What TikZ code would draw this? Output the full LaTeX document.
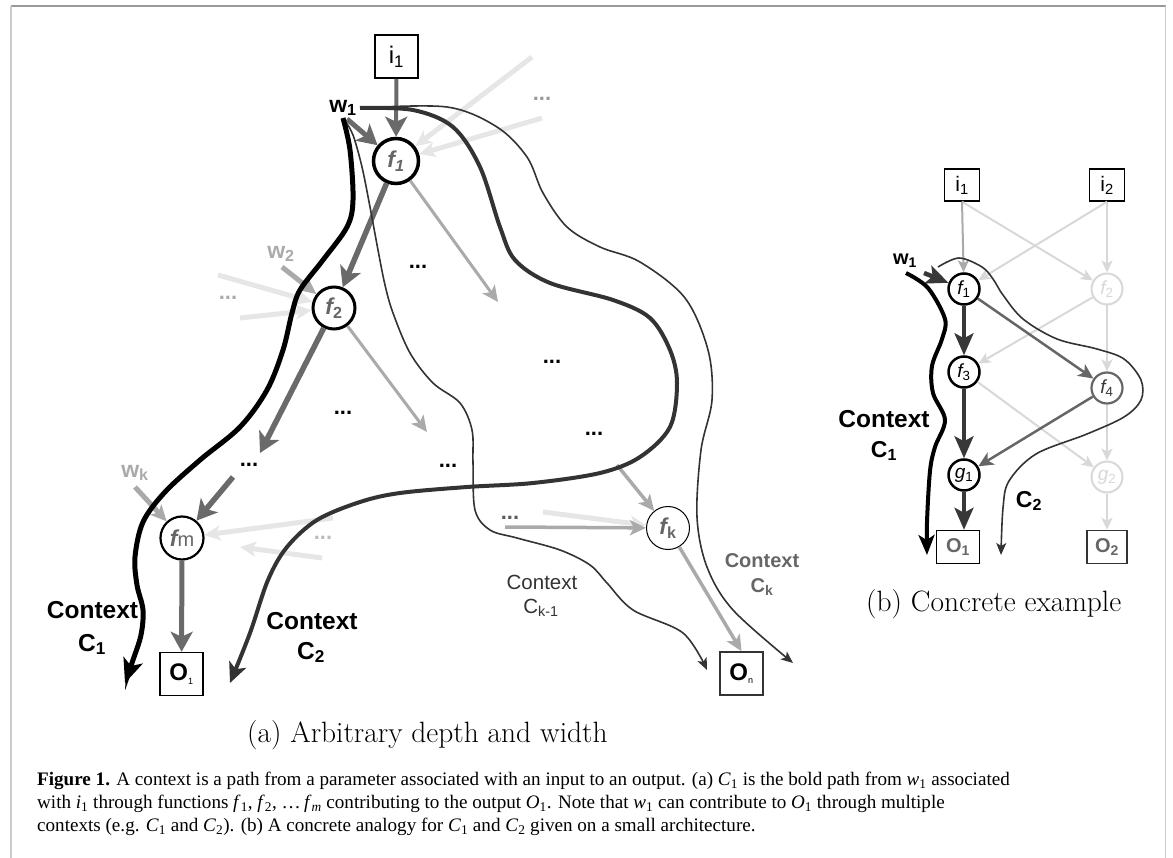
\documentclass[tikz,border=0pt]{standalone}
\usepackage{fontspec}
\usetikzlibrary{arrows.meta}
\newfontfamily\lblfont{Liberation Sans}
\newfontfamily\capfont{Liberation Serif}
\newcommand\fsz[1]{\fontsize{#1}{#1}\selectfont}
\definecolor{frameA}{HTML}{999999}
\definecolor{frameB}{HTML}{CCCCCC}
\definecolor{pathgray}{HTML}{6A6A6A}
\definecolor{midgray}{HTML}{AAAAAA}
\definecolor{palegray}{HTML}{E6E6E6}
\definecolor{ctxgray}{HTML}{333333}
\definecolor{fadegray}{HTML}{D8D8D8}
\definecolor{labgray}{HTML}{666666}
\definecolor{darkedge}{HTML}{383838}

\tikzset{
  iobox/.style={draw=black, line width=1.8pt, fill=white, inner sep=0pt,
    minimum width=43pt, minimum height=43pt, font=\lblfont\fsz{24}},
  fnode/.style={circle, draw=black, fill=white, inner sep=0pt,
    minimum size=44pt, text=labgray, font=\lblfont\fsz{23}},
  bigtip/.style={-{Stealth[length=20pt,width=22pt,inset=5pt]}},
  midtip/.style={-{Stealth[length=16pt,width=15pt,inset=4pt]}},
  smalltip/.style={-{Stealth[length=12pt,width=11pt,inset=3pt]}},
  thintip/.style={-{Stealth[length=12pt,width=10pt,inset=3pt]}},
  mainedge/.style={pathgray, line width=5.5pt, bigtip},
  sideedge/.style={midgray, line width=3pt, midtip},
  faintedge/.style={palegray, line width=5pt, midtip},
  dots/.style={inner sep=0pt, font=\lblfont\bfseries\fsz{22}},
  wlabel/.style={inner sep=0pt, font=\lblfont\bfseries\fsz{23}},
  ctxlabel/.style={inner sep=0pt, font=\lblfont\bfseries\fsz{24.5}},
  ctxthick/.style={black, line width=5pt, -{Stealth[length=24pt,width=20pt,inset=6pt]}},
  ctxmid/.style={ctxgray, line width=4pt, -{Stealth[length=20pt,width=18pt,inset=5pt]}},
  ctxthin/.style={ctxgray, line width=1.6pt, thintip},
  subcap/.style={anchor=base west, inner sep=0pt, font=\fsz{29.4}},
  % small example
  sbox/.style={draw=black, line width=1.5pt, fill=white, inner sep=0pt,
    minimum width=35pt, minimum height=32pt, font=\lblfont\fsz{21}},
  snode/.style={circle, draw=black, line width=2.5pt, fill=white, inner sep=0pt,
    minimum size=31pt, font=\lblfont\itshape\fsz{19}},
  fadenode/.style={snode, draw=fadegray, text=fadegray, line width=2pt},
  fadeedge/.style={fadegray, line width=2pt, smalltip},
  activeedge/.style={darkedge, line width=3.5pt, -{Stealth[length=22pt,width=19pt,inset=5pt]}},
  sidesmall/.style={labgray, line width=2.5pt, -{Stealth[length=15pt,width=14pt,inset=4pt]}},
  capline/.style={anchor=base west, inner sep=0pt, font=\capfont\fsz{19.1}},
}

\begin{document}
\begin{tikzpicture}[x=1pt,y=-1pt]
\useasboundingbox (0,0) rectangle (1173,858);

% frame
\draw[frameA, line width=1.5pt] (11,6) -- (1166,6);
\draw[frameB, line width=2pt] (11,6) -- (11,858);
\draw[frameB, line width=1pt] (1165,6) -- (1165,858);

% ---------------- (a) arbitrary network ----------------
\node[iobox] (i1a) at (396.5,56.5) {i\textsubscript{1}};
\node[fnode, line width=3.5pt, minimum size=45pt] (f1a) at (396,161) {\bfseries\itshape f\textsubscript{1}};
\node[fnode, line width=3pt, minimum size=42pt] (f2a) at (334,308) {\bfseries\itshape f\textsubscript{\upshape 2}};
\node[fnode, line width=2.2pt, minimum size=43pt] (fma) at (182,538) {\bfseries\itshape f\mdseries\upshape\fsz{20}m};
\node[fnode, line width=1pt, minimum size=43pt] (fka) at (668,528) {\bfseries\itshape f\textsubscript{\upshape k}};
\node[iobox, line width=1.5pt] (O1a) at (181.5,674) {\bfseries O\textsubscript{\fsz{9}\mdseries 1}};
\node[iobox, line width=1.5pt, draw=ctxgray] (Ona) at (741.5,673.5) {\bfseries O\textsubscript{\fsz{9}\mdseries n}};

\node[wlabel] (w1a) at (343,108) {w\textsubscript{1}};
\node[wlabel, text=midgray] (w2a) at (281,254) {w\textsubscript{2}};
\node[wlabel, text=midgray] (wka) at (135,473) {w\textsubscript{k}};

% dots standing for further units
\node[dots] (da1) at (418,267) {...};
\node[dots] (da2) at (343,413) {...};
\node[dots] (da3) at (249,465) {...};
\node[dots] (da4) at (448,466) {...};
\node[dots] (da5) at (552,362) {...};
\node[dots] (da6) at (594,434) {...};
\node[dots, text=ctxgray!80] (da7) at (510,518) {...};
\node[dots, text=frameA] (da8) at (542,99) {...};
\node[dots, text=midgray] (da9) at (228,298) {...};
\node[dots, text=midgray!80] (da10) at (323,538) {...};

% free ends of the edges
\coordinate (w1s) at (347,119);
\coordinate (pf1) at (532,57);
\coordinate (pf2) at (542,118);
\coordinate (r1) at (498,302);
\coordinate (w2s) at (282,267);
\coordinate (pf3) at (218,275);
\coordinate (pf4) at (240,318);
\coordinate (d2) at (260,453);
\coordinate (r2) at (427,432);
\coordinate (d3) at (233,477);
\coordinate (wks) at (135,487);
\coordinate (pf5) at (333,518);
\coordinate (pf6) at (322,558);
\coordinate (pf6e) at (240,547);
\coordinate (k1) at (617,465);
\coordinate (pf7) at (543,512);
\coordinate (k2) at (505,527);

% faint incoming edges
\draw[faintedge] (pf1) -- (f1a);
\draw[faintedge] (pf2) -- (f1a);
\draw[faintedge] (pf3) -- (f2a);
\draw[faintedge] (pf4) -- (f2a);
\draw[faintedge] (pf5) -- (fma);
\draw[faintedge] (pf6) -- (pf6e);
\draw[faintedge] (pf7) -- (fka);

% side branches
\draw[sideedge] (f1a) -- (r1);
\draw[sideedge] (f2a) -- (r2);
\draw[midgray, line width=5pt, midtip] (w2s) -- (f2a);
\draw[midgray, line width=5pt, midtip] (wks) -- (fma);
\draw[sideedge, line width=3.5pt] (k1) -- (fka);
\draw[sideedge, line width=3.5pt] (k2) -- (fka);
\draw[sideedge, line width=3.5pt] (fka) -- (Ona.north);

% main path
\draw[mainedge, line width=4pt] (i1a) -- (f1a);
\draw[mainedge, line width=5pt] (w1s) -- (f1a);
\draw[mainedge] (f1a) -- (f2a);
\draw[mainedge] (f2a) -- (d2);
\draw[mainedge] (d3) -- (fma);
\draw[mainedge, line width=5pt] (fma) -- (O1a);

% contexts
\coordinate (c1s) at (343,118);
\coordinate (c1e) at (125,683);
\coordinate (c2s) at (360,108);
\coordinate (c2e) at (230,683);
\coordinate (cks) at (362,108);
\coordinate (cke) at (793,663);
\coordinate (cms) at (345,121);
\coordinate (cme) at (707,670);

\draw[ctxthin] plot[smooth, tension=0.55] coordinates {(cks) (447,107) (497,127) (527,157) (543,193) (567,227) (600,247) (640,262) (685,298) (708,350) (712,400) (701,450) (697,517) (707,567) (733,610) (cke)};
\draw[ctxthin] plot[smooth, tension=0.55] coordinates {(cms) (353,135) (362,167) (370,207) (378,250) (385,285) (393,313) (410,353) (433,383) (460,403) (472,430) (473,463) (475,510) (490,530) (517,538) (560,550) (590,565) (607,583) (633,610) (683,633) (cme)};
\draw[ctxmid] plot[smooth, tension=0.55] coordinates {(c2s) (413,110) (453,127) (480,167) (500,227) (515,260) (550,283) (613,300) (650,318) (670,350) (677,383) (670,427) (640,457) (600,473) (533,483) (467,487) (400,493) (360,502) (317,520) (287,547) (268,580) (250,633) (c2e)};
\draw[ctxthick] plot[smooth, tension=0.55] coordinates {(c1s) (350,150) (353,200) (347,227) (323,260) (300,290) (292,313) (283,350) (267,390) (240,427) (200,460) (165,492) (143,522) (135,557) (137,585) (143,610) (141,635) (133,660) (c1e)};

% context labels
\node[ctxlabel] (lc1) at (92.5,610) {Context};
\node[ctxlabel, anchor=base] (lc1b) at (92,651) {C\textsubscript{1}};
\node[ctxlabel] (lc2) at (312,621) {Context};
\node[ctxlabel, anchor=base] (lc2b) at (311,659) {C\textsubscript{2}};
\node[inner sep=0pt, font=\lblfont\fsz{20.5}, text=ctxgray] (lcm) at (542,582) {Context};
\node[inner sep=0pt, font=\lblfont\fsz{20.5}, text=ctxgray, anchor=base] (lcmb) at (541,613) {C\textsubscript{k-1}};
\node[inner sep=0pt, font=\lblfont\bfseries\fsz{20}, text=labgray] (lck) at (762,561) {Context};
\node[inner sep=0pt, font=\lblfont\bfseries\fsz{20}, text=labgray, anchor=base] (lckb) at (762,592) {C\textsubscript{k}};

\node[subcap] (capa) at (247,742) {(a) Arbitrary depth and width};

% ---------------- (b) concrete example ----------------
\node[sbox] (i1b) at (962,185) {i\textsubscript{1}};
\node[sbox] (i2b) at (1107,185) {i\textsubscript{2}};
\node[snode] (f1b) at (964,289) {f\textsubscript{\upshape 1}};
\node[fadenode] (f2b) at (1107,289) {f\textsubscript{\upshape 2}};
\node[snode] (f3b) at (964,372) {f\textsubscript{\upshape 3}};
\node[snode, draw=labgray, line width=2.2pt, text=darkedge] (f4b) at (1107,388) {f\textsubscript{\upshape 4}};
\node[snode] (g1b) at (964,475) {g\textsubscript{\upshape 1}};
\node[fadenode] (g2b) at (1107,477) {g\textsubscript{\upshape 2}};
\node[sbox, minimum width=43pt, minimum height=33pt, text=labgray, font=\lblfont\bfseries\fsz{20}] (O1b) at (958,547) {O\textsubscript{1}};
\node[sbox, minimum width=40pt, minimum height=33pt, draw=ctxgray, text=labgray, font=\lblfont\bfseries\fsz{20}] (O2b) at (1107,547) {O\textsubscript{2}};

\node[wlabel, font=\lblfont\bfseries\fsz{20}] (w1b) at (905,261) {w\textsubscript{1}};
\coordinate (w1bs) at (924,273);

\draw[fadeedge] (i1b.south) -- (f2b);
\draw[fadeedge] (i2b.south) -- (f1b);
\draw[fadeedge] (i2b.south) -- (f2b);
\draw[fadeedge] (f2b) -- (f3b);
\draw[fadeedge] (f2b) -- (f4b);
\draw[fadeedge] (f3b) -- (g2b);
\draw[fadeedge] (f4b) -- (g2b);
\draw[fadeedge] (g2b) -- (O2b);
\draw[midgray, line width=2pt, smalltip] (i1b.south) -- (f1b);
\draw[activeedge, line width=4.5pt] (w1bs) -- (f1b);
\draw[activeedge] (f1b) -- (f3b);
\draw[activeedge] (f3b) -- (g1b);
\draw[activeedge] (g1b) -- (O1b.north -| g1b);
\draw[sidesmall] (f1b) -- (f4b);
\draw[sidesmall] (f4b) -- (g1b);

\coordinate (b1s) at (906,273);
\coordinate (b1e) at (927,555);
\coordinate (b2s) at (938,267);
\coordinate (b2e) at (1001,555);
\draw[ctxgray, line width=1.6pt, thintip] plot[smooth, tension=0.55] coordinates {(b2s) (959,258) (982,267) (993,279) (1003,295) (1023,319) (1057,339) (1097,349) (1124,359) (1141,380) (1141,400) (1124,417) (1087,434) (1036,454) (1009,481) (1003,508) (b2e)};
\draw[black, line width=4pt, -{Stealth[length=20pt,width=16pt,inset=5pt]}] plot[smooth, tension=0.55] coordinates {(b1s) (928,288) (945,319) (942,339) (932,366) (933,393) (945,420) (935,447) (930,471) (927,522) (b1e)};

\node[ctxlabel] (lb1) at (884,419) {Context};
\node[ctxlabel, font=\lblfont\bfseries\fsz{23}, anchor=base] (lb1b) at (884,457) {C\textsubscript{1}};
\node[ctxlabel, font=\lblfont\bfseries\fsz{23}, anchor=base] (lb2) at (1029,507) {C\textsubscript{2}};

\node[subcap] (capb) at (866,611) {(b) Concrete example};

% ---------------- figure caption ----------------
\node[capline] (cap1) at (37,785)
  {\textbf{Figure 1.} A context is a path from a parameter associated with an input to an output. (a) \textit{C}\textsubscript{1} is the bold path from \textit{w}\textsubscript{1} associated};
\node[capline] (cap2) at (37,808)
  {with \textit{i}\textsubscript{1} through functions \textit{f}\textsubscript{1}, \textit{f}\textsubscript{2}, \ldots\,\textit{f}\textsubscript{\textit{m}} contributing to the output \textit{O}\textsubscript{1}. Note that \textit{w}\textsubscript{1} can contribute to \textit{O}\textsubscript{1} through multiple};
\node[capline] (cap3) at (37,831)
  {contexts (e.g. \textit{C}\textsubscript{1} and \textit{C}\textsubscript{2}). (b) A concrete analogy for \textit{C}\textsubscript{1} and \textit{C}\textsubscript{2} given on a small architecture.};
\end{tikzpicture}
\end{document}
